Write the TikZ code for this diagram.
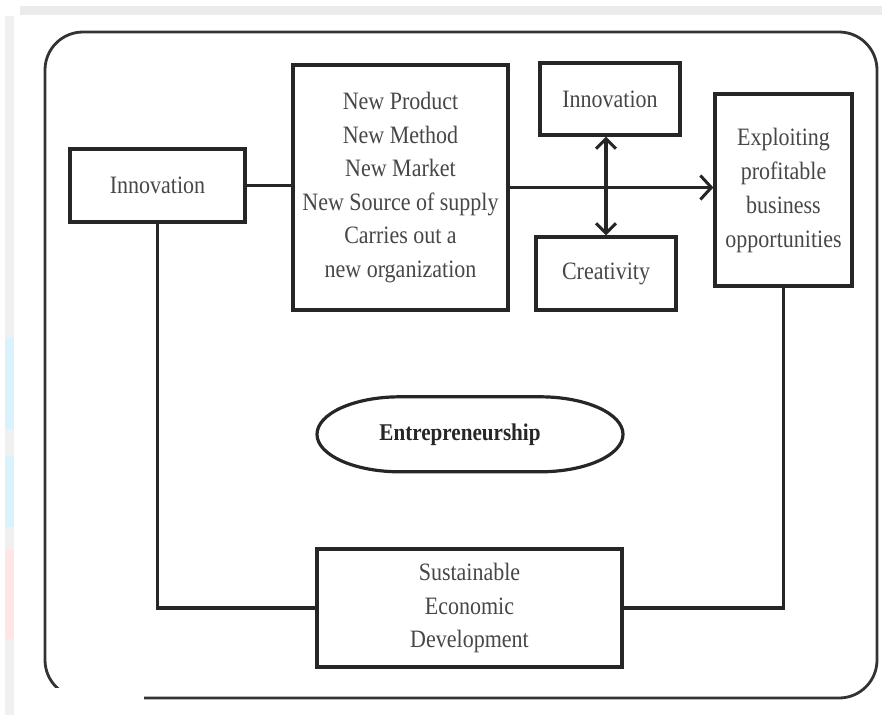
\documentclass[tikz,border=0pt]{standalone}
\usepackage{fontspec}
\setmainfont[FakeStretch=0.88]{Liberation Serif}
\usetikzlibrary{arrows.meta,shapes.geometric}
\begin{document}
\begin{tikzpicture}[x=1pt,y=-1pt,
  box/.style={draw=black!85,line width=3.2pt,inner sep=0pt,align=center,text=black!72,
    font=\fontsize{25}{33.5}\selectfont},
  conn/.style={draw=black!85,line width=3.2pt},
  tip/.style={-{Straight Barb[length=11pt,width=24pt,line width=3pt]}},
  dtip/.style={{Straight Barb[length=10pt,width=20pt,line width=3pt]}-{Straight Barb[length=10pt,width=20pt,line width=3pt]}}]
\useasboundingbox (0,0) rectangle (882,715);
\fill[white] (0,0) rectangle (882,715);
% scan artifacts
\fill[black!8] (20,6) rectangle (882,15);
\fill[black!6] (5,16) rectangle (14,715);
\fill[cyan!15] (5,338) rectangle (14,429);
\fill[cyan!15] (5,456) rectangle (14,527);
\fill[red!10] (5,550) rectangle (14,639);
% outer frame
\draw[black!80,line width=2.8pt,rounded corners=38pt] (45,32) rectangle (877,698);
\fill[white] (20,688) rectangle (144,715);
% nodes
\node[box,minimum width=175pt,minimum height=73pt] (inn) at (157.5,185.5) {Innovation};
\node[box,minimum width=215pt,minimum height=245pt] (mid) at (400.5,187.5)
  {New Product\\New Method\\New Market\\New Source of supply\\Carries out a\\new organization};
\node[box,minimum width=140pt,minimum height=72pt] (inn2) at (610,99) {Innovation};
\node[box,minimum width=140pt,minimum height=73pt] (cre) at (606,273.5) {Creativity};
\node[box,minimum width=137pt,minimum height=192pt,font=\fontsize{25}{34}\selectfont] (exp) at (783.5,190)
  {Exploiting\\profitable\\business\\opportunities};
\node[box,minimum width=305pt,minimum height=118pt] (sus) at (469.5,608)
  {Sustainable\\Economic\\Development};
\node[ellipse,minimum width=306pt,minimum height=75pt,inner sep=0pt,text=black!85,
  font=\fontsize{24}{26}\selectfont\bfseries] (ent) at (470,434.5) {Entrepreneurship\hspace*{20pt}};
\draw[black!85,line width=3.2pt] (ent.north) -- ++(-70,0)
  arc[start angle=-90,end angle=-270,x radius=83,y radius=37.5] -- ++(140,0)
  arc[start angle=90,end angle=-90,x radius=83,y radius=37.5] -- cycle;
% connectors
\draw[conn] (inn.east) -- (inn.east -| mid.west);
\draw[conn,tip] (mid.east) -- (mid.east -| exp.west);
\draw[conn,dtip] (cre.north |- inn2.south) -- (cre.north);
\draw[conn] (inn.south) -- (inn.south |- sus.west) -- (sus.west);
\draw[conn] (exp.south) -- (exp.south |- sus.east) -- (sus.east);
\end{tikzpicture}
\end{document}
